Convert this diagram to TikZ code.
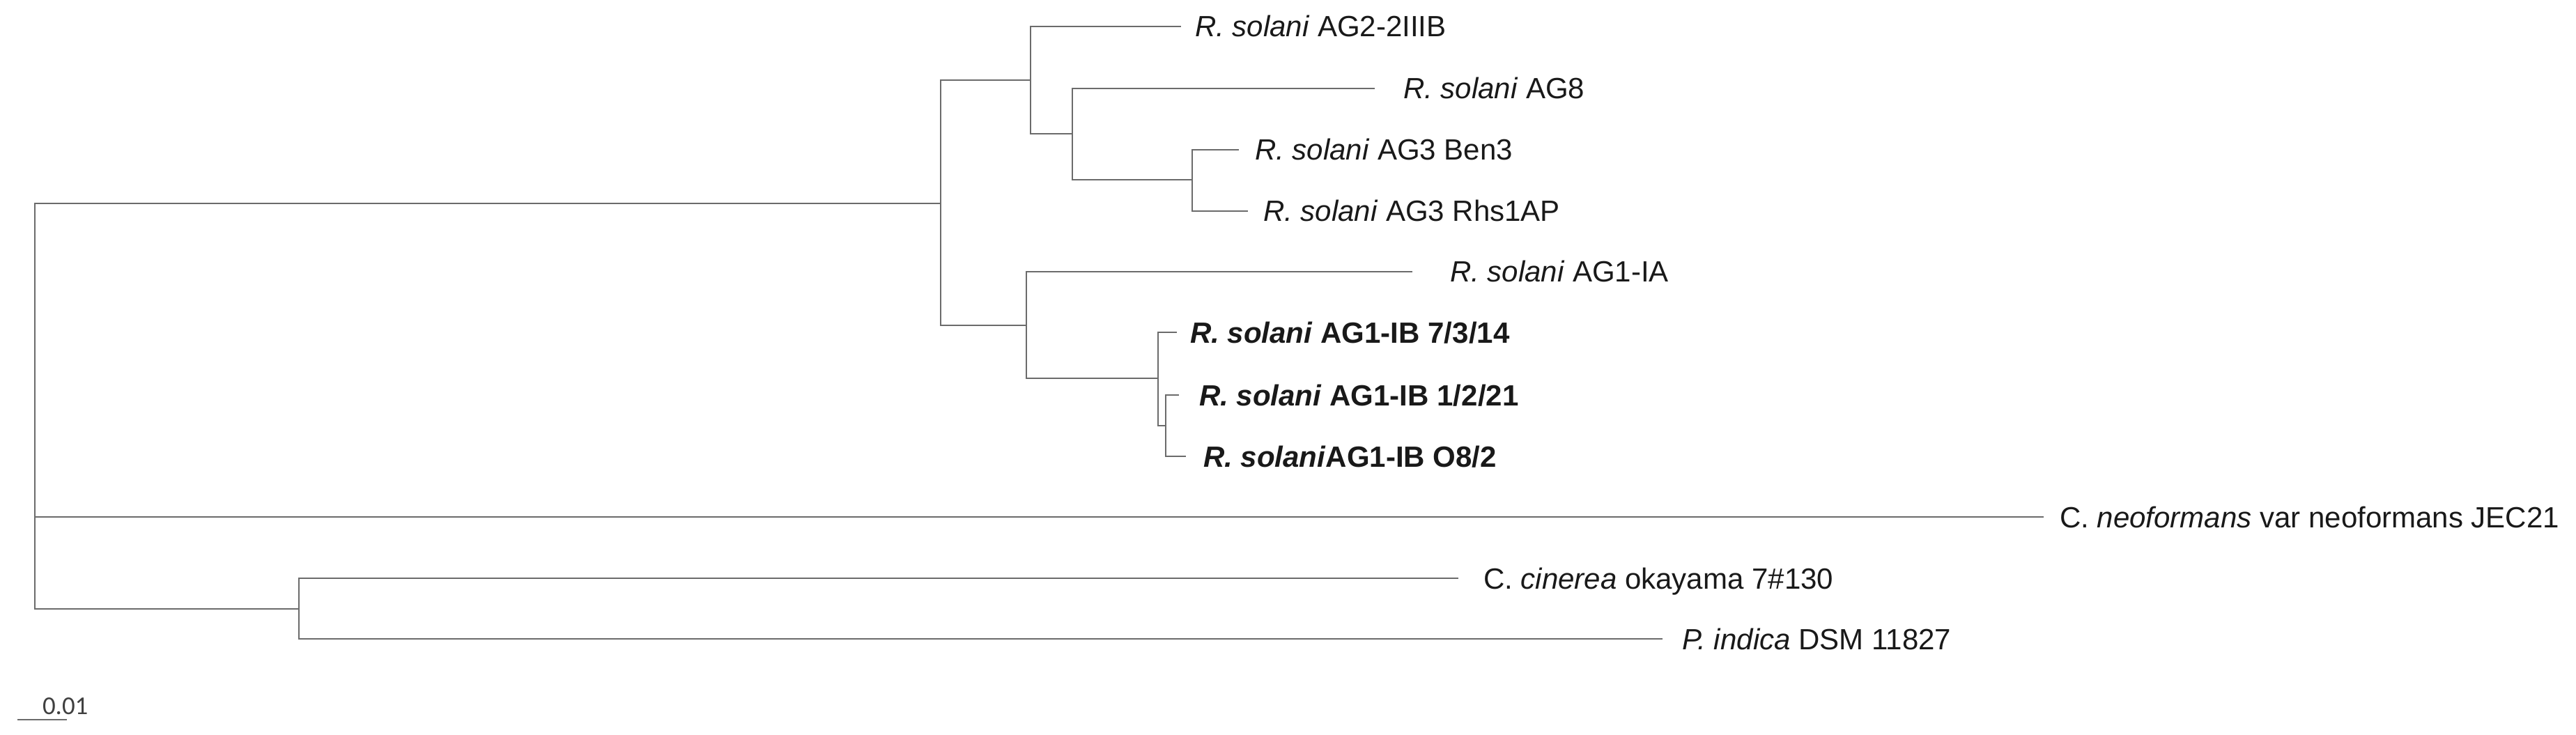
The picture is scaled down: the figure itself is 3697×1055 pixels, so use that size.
\documentclass[tikz,border=0pt]{standalone}
\usepackage{fontspec}
\setmainfont{Liberation Sans}
\newfontfamily\barfont{Carlito}
\usetikzlibrary{calc,positioning}
\definecolor{branchGray}{rgb}{0.42 0.42 0.42}
\definecolor{labelInk}{rgb}{0.1 0.1 0.1}

\begin{document}
\begin{tikzpicture}[x=0.01cm,y=-0.01cm,
    every node/.style={inner sep=0pt,outer sep=0pt,anchor=base west,text=labelInk,font=\fontsize{11.95}{14}\selectfont},
    branch/.style={draw=branchGray,line width=0.028cm}]

      \useasboundingbox (0,0) rectangle (3697,1055);

      % the inner nodes of the tree
      \def\inner{R/50/742, A/1350/292, B/1479/115, C/1539/192, D/1711/258,
        E/1473/467, F/1662/543, G/1673/611, H/429/874}
      \foreach \n/\x/\y in \inner \coordinate (\n) at (\x,\y);

      % the leaves: name / tip x / tip y / label x / text
      \def\leaves{
        L1/1695/38/1715/{\textit{R. solani} AG2-2IIIB},
        L2/1973/127/2014/{\textit{R. solani} AG8},
        L3/1778/215/1801/{\textit{R. solani} AG3 Ben3},
        L4/1791/303/1813/{\textit{R. solani} AG3 Rhs1AP},
        L5/2027/390/2081/{\textit{R. solani} AG1-IA},
        L6/1689/477/1708/{\textbf{\textit{R. solani} AG1-IB 7/3/14}},
        L7/1692/567/1721/{\textbf{\textit{R. solani} AG1-IB 1/2/21}},
        L8/1702/655/1727/{\textbf{\textit{R. solani}AG1-IB O8/2}},
        L9/2933/742/2956/{C. \textit{neoformans} var neoformans JEC21},
        L10/2093/830/2129/{C. \textit{cinerea} okayama 7\#130},
        L11/2386/917/2414/{\textit{P. indica} DSM 11827}
      }
      \foreach \n/\x/\y/\lx/\txt in \leaves
      {
        \coordinate (\n) at (\x,\y);
        \node (\n lab) at (\lx,{\y+15}) {\txt};
      }

      % draw the branches
      \def\edges{R/A, R/L9, R/H, A/B, A/E, B/L1, B/C, C/L2, C/D, D/L3, D/L4,
        E/L5, E/F, F/L6, F/G, G/L7, G/L8, H/L10, H/L11}
      \foreach \p/\c in \edges \draw[branch] (\p) |- (\c);

      % the scale bar
      \coordinate (sbLeft) at (25,1033);
      \coordinate (sbRight) at (96,1033);
      \draw[branch] (sbLeft) -- (sbRight);
      \node[font=\barfont\fontsize{10.5}{12}\selectfont,text=black!75] (sbLabel) at (61,1025) {0.01};

    \end{tikzpicture}
\end{document}
